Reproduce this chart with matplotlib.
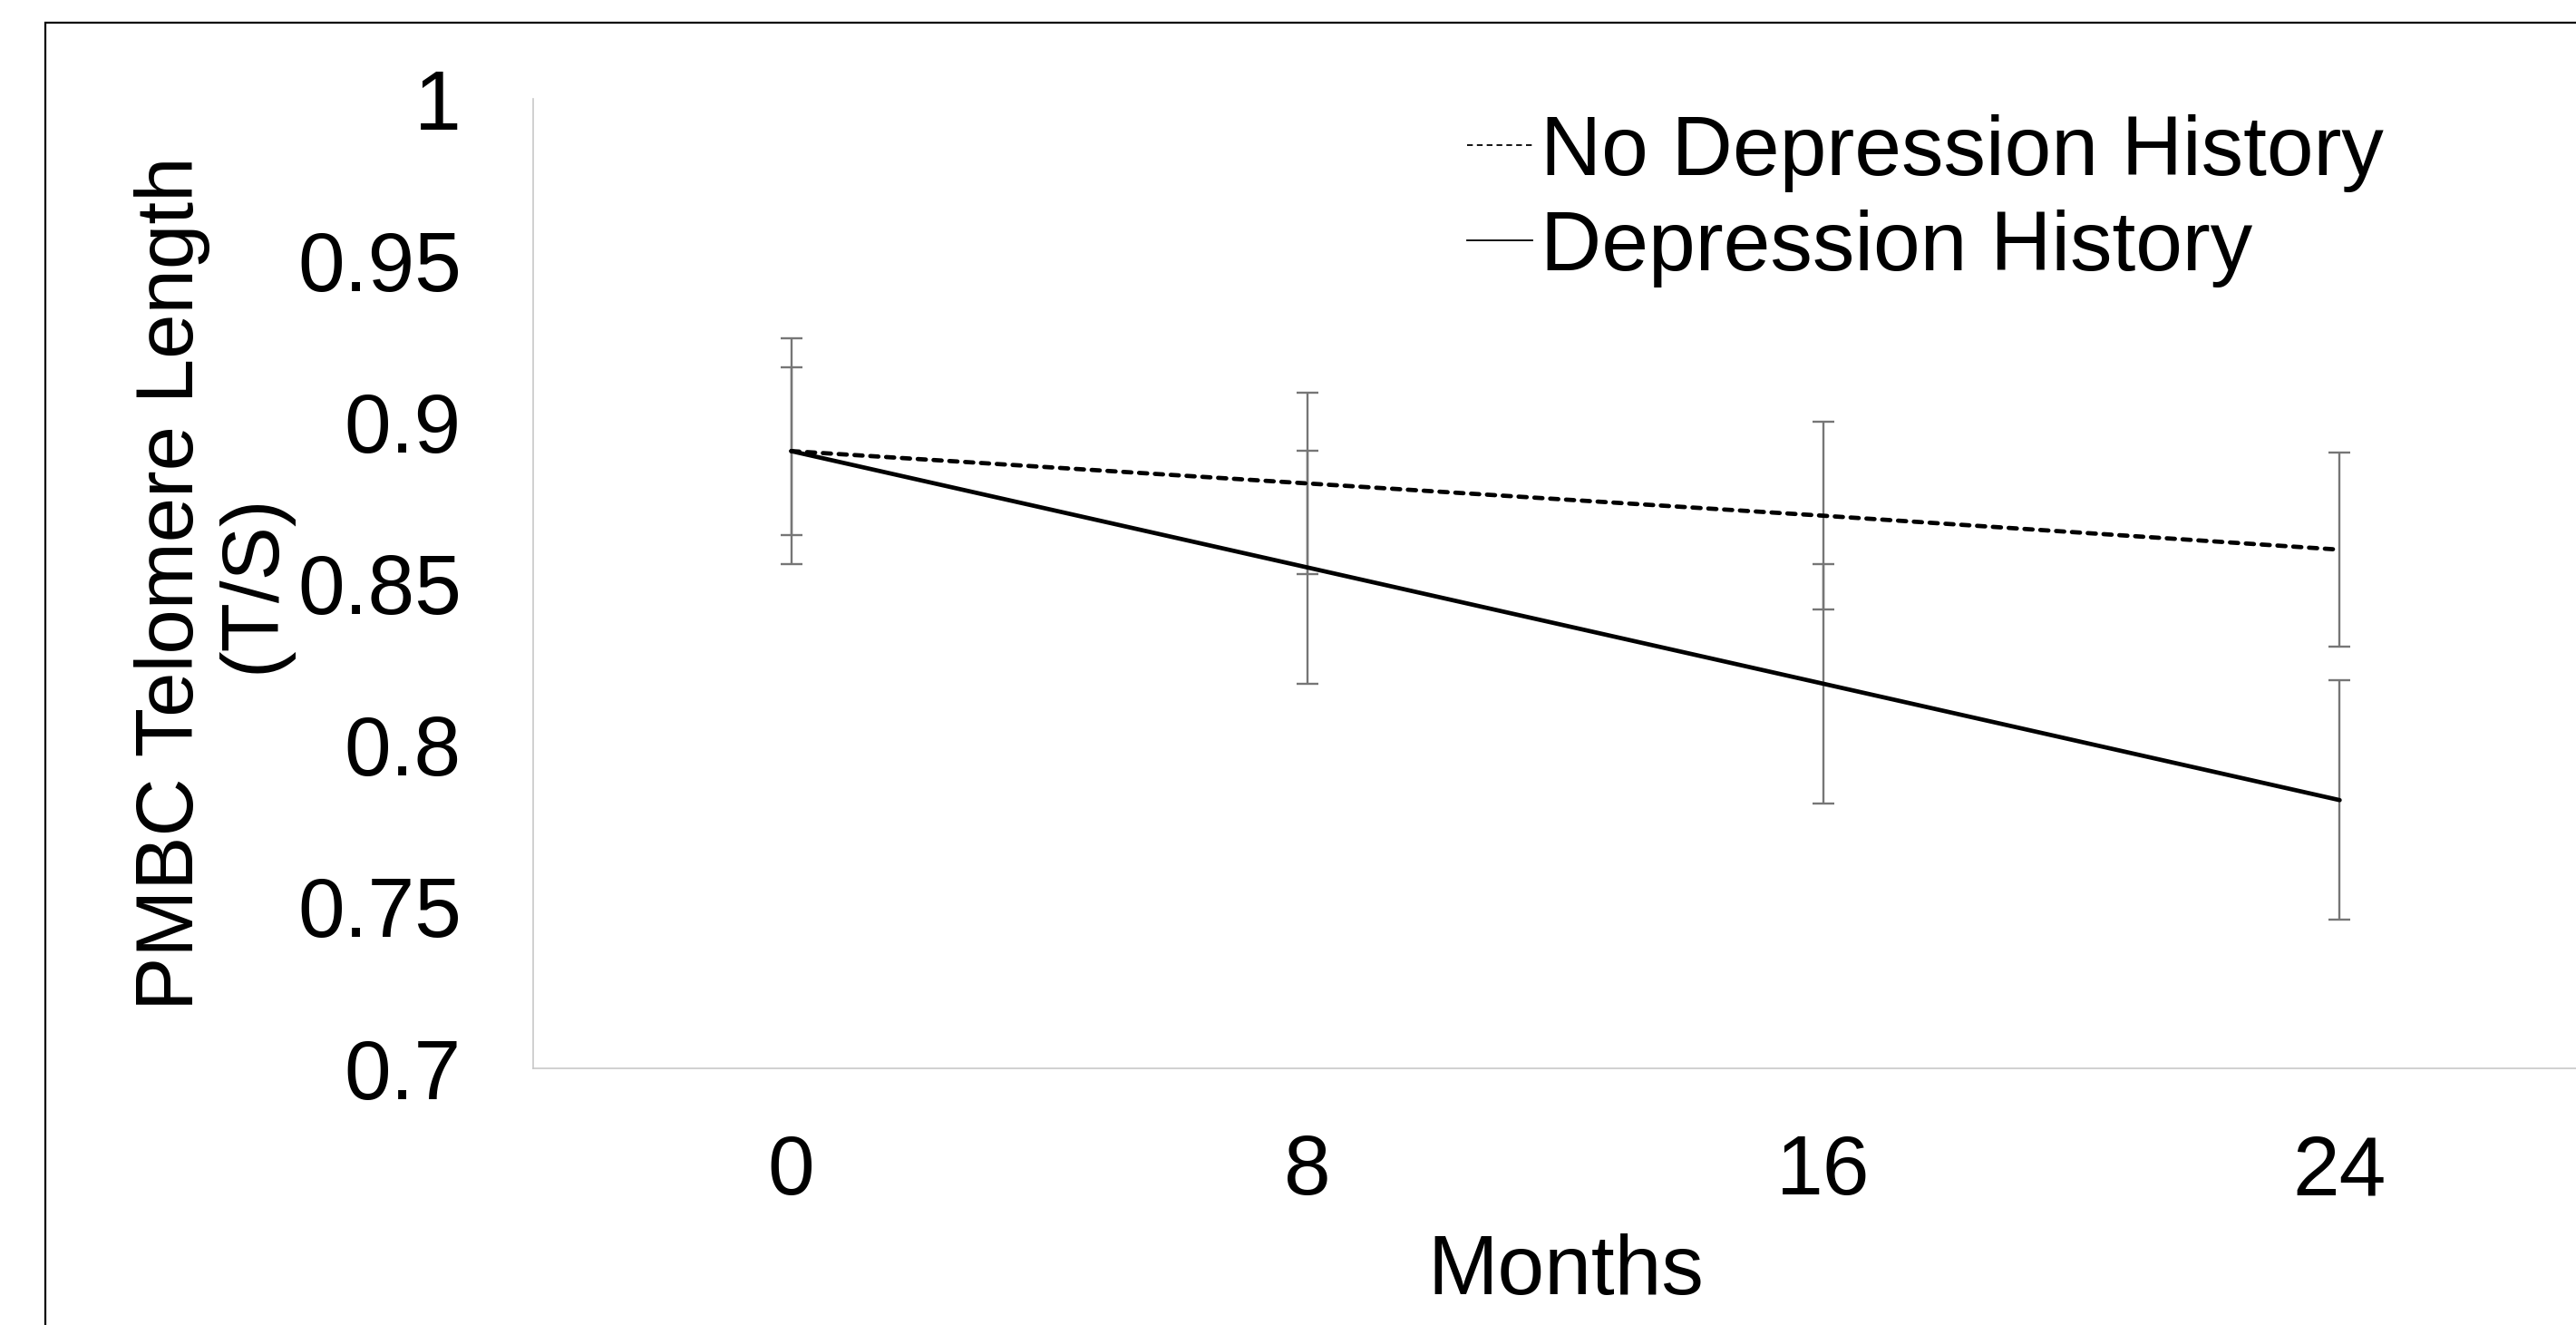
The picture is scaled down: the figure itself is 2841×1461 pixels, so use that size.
import matplotlib
matplotlib.use("Agg")
import matplotlib.pyplot as plt
from matplotlib.lines import Line2D
from matplotlib.patches import Rectangle
from matplotlib.ticker import FuncFormatter

plt.rcParams['font.family'] = ['Liberation Sans', 'DejaVu Sans']

months = [0, 8, 16, 24]
no_dep = [0.891, 0.881, 0.871, 0.8605]
no_dep_err = [0.026, 0.028, 0.029, 0.030]
dep = [0.891, 0.855, 0.819, 0.783]
dep_err = [0.035, 0.036, 0.037, 0.037]
labels = ["No Depression History", "Depression History"]

fs = 67
fig = plt.figure(figsize=(28.41, 14.61), dpi=100)
ax = fig.add_axes([588 / 2841, 1 - 1178 / 1461, 2277 / 2841, 1069 / 1461])

x = list(range(len(months)))
ax.errorbar(x, no_dep, yerr=no_dep_err, fmt='none', ecolor='#767676',
            elinewidth=1.7, capsize=8.5, capthick=1.7, zorder=2)
ax.errorbar(x, dep, yerr=dep_err, fmt='none', ecolor='#767676',
            elinewidth=1.7, capsize=8.5, capthick=1.7, zorder=2)
ax.plot(x, no_dep, color='black', lw=3.4, linestyle=(0, (1.9, 1.8)),
        dash_capstyle='round', zorder=3)
ax.plot(x, dep, color='black', lw=3.4, solid_capstyle='round', zorder=3)

ax.set_xlim(-0.5, len(months) - 0.5)
ax.set_ylim(0.7, 1.0)
ax.set_xticks(x)
ax.set_xticklabels([str(m) for m in months])
ax.set_yticks([0.7, 0.75, 0.8, 0.85, 0.9, 0.95, 1.0])
ax.yaxis.set_major_formatter(FuncFormatter(lambda v, p: f"{v:g}"))
ax.tick_params(axis='both', length=0, labelsize=fs)
ax.tick_params(axis='x', pad=52)
ax.tick_params(axis='y', pad=57)

for s in ['top', 'right']:
    ax.spines[s].set_visible(False)
for s in ['left', 'bottom']:
    ax.spines[s].set_color('#C8C8C8')
    ax.spines[s].set_linewidth(1.2)

ax.set_xlabel("Months", fontsize=fs, labelpad=17)
ax.set_ylabel("PMBC Telomere Length\n(T/S)", fontsize=64, linespacing=1.08)
ax.yaxis.set_label_coords(-0.117, 0.5)

handles = [Line2D([], [], color='black', lw=1.3, linestyle=(0, (3.5, 2.5))),
           Line2D([], [], color='black', lw=1.3)]
fig.legend(handles, labels, loc='upper left', bbox_to_anchor=(1618 / 2841, 1 - 126 / 1461),
           frameon=False, fontsize=fs, handlelength=0.77, handletextpad=0.1,
           labelspacing=0.2, borderpad=0, borderaxespad=0)

fig.add_artist(Rectangle((50 / 2841, -0.2), 1.5, 1.2 - 25 / 1461, transform=fig.transFigure,
                         fill=False, edgecolor='black', lw=1.6))

fig.savefig("out.png", dpi=100)
